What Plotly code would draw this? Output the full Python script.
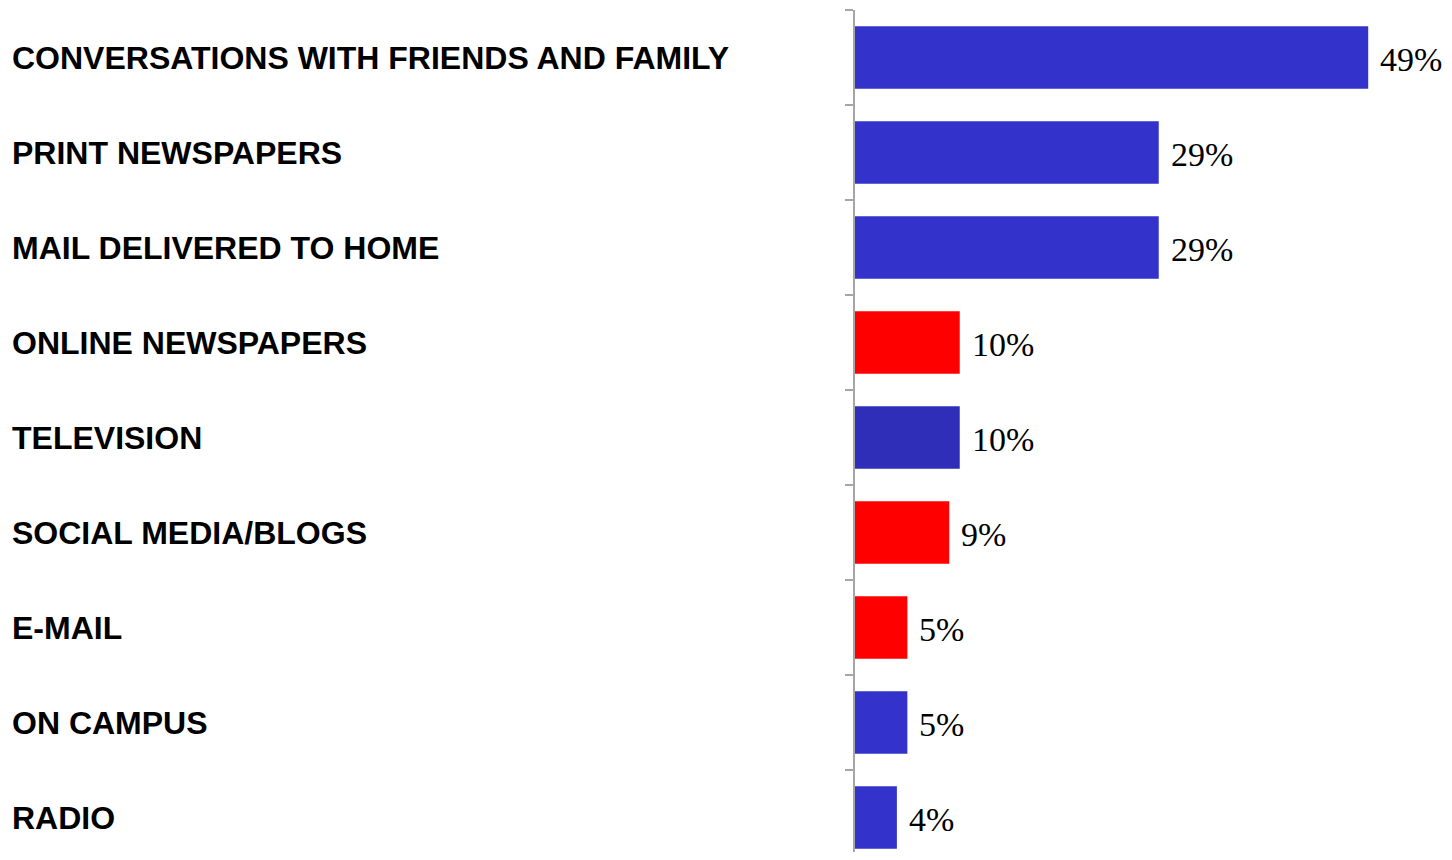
import plotly.graph_objects as go

sources = ["CONVERSATIONS WITH FRIENDS AND FAMILY", "PRINT NEWSPAPERS", "MAIL DELIVERED TO HOME",
           "ONLINE NEWSPAPERS", "TELEVISION", "SOCIAL MEDIA/BLOGS", "E-MAIL", "ON CAMPUS", "RADIO"]
shares = [49, 29, 29, 10, 10, 9, 5, 5, 4]

# bar colours (red = online channels)
bar_colors = ["#3333CC", "#3333CC", "#3333CC", "#FF0000", "#2E2EB8", "#FF0000", "#FF0000", "#3333CC", "#3333CC"]

# page body has an 8px margin, so the figure is sized to fit inside the window without scrolling
W, H = 1444, 844
left, top = 847, 2
plot_w = W - left

fig = go.Figure()
fig.add_bar(x=shares, y=sources, orientation="h", width=0.66,
            marker=dict(color=bar_colors, line=dict(width=0)),
            hoverinfo="x+y")

# value labels to the right of bars
for s, v in zip(sources, shares):
    fig.add_annotation(x=v, y=s, xref="x", yref="y", text=f"{v}%", showarrow=False,
                       xanchor="left", yanchor="middle", xshift=10, yshift=-2,
                       font=dict(family="Liberation Serif, Times New Roman, serif", size=34, color="black"))

# category labels, left aligned at the page edge
for s in sources:
    fig.add_annotation(x=-(left - 2) / plot_w, y=s, xref="paper", yref="y", text=f"<b>{s}</b>",
                       showarrow=False, xanchor="left", yanchor="middle",
                       font=dict(family="Liberation Sans, Arial, sans-serif", size=32, color="black"))

fig.update_layout(
    width=W, height=H,
    margin=dict(l=left, r=0, t=top, b=0, autoexpand=False),
    plot_bgcolor="white", paper_bgcolor="white",
    showlegend=False,
    xaxis=dict(visible=False, range=[0, 57], fixedrange=True, automargin=False),
    yaxis=dict(type="category", categoryorder="array", categoryarray=sources, automargin=False,
               range=[8.363, -0.5], showticklabels=False, showgrid=False, zeroline=False,
               showline=True, linecolor="#A6A6A6", linewidth=2,
               ticks="outside", tickson="boundaries", ticklen=8, tickcolor="#A6A6A6", tickwidth=2),
)

fig.write_html("out.html")
